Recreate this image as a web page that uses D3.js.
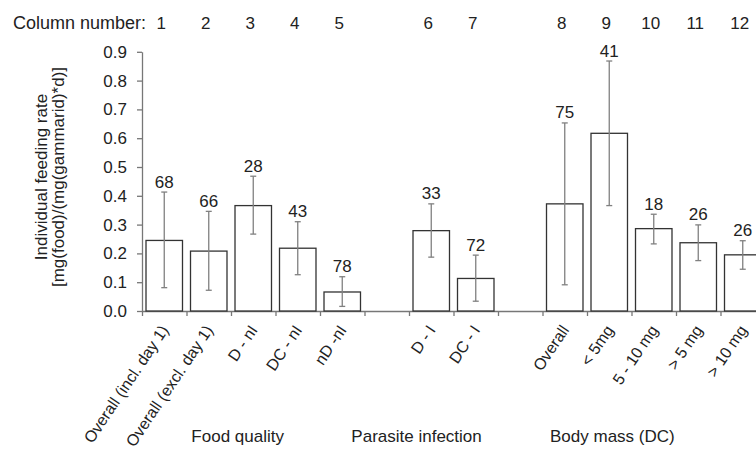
<!DOCTYPE html>
<html>
<head>
<meta charset="utf-8">
<script src="https://cdn.jsdelivr.net/npm/d3@7"></script>
<style>
  body { margin: 0; background: #fff; }
  svg { display: block; overflow: hidden; }
  text { font-family: "Liberation Sans", Arial, Helvetica, sans-serif; fill: #222; }
</style>
</head>
<body>
<div id="chart"></div>
<script>
// data
var columnNumbers = [1, 2, 3, 4, 5, 6, 7, 8, 9, 10, 11, 12];
var labels = ["Overall (incl. day 1)", "Overall (excl. day 1)", "D - nI", "DC - nI", "nD -nI",
              "D - I", "DC - I",
              "Overall", "< 5mg", "5 - 10 mg", "> 5 mg", "> 10 mg"];
var slots = [0, 1, 2, 3, 4, 6, 7, 9, 10, 11, 12, 13];   // empty slots 5 and 8 split the groups
var means = [0.245, 0.208, 0.366, 0.218, 0.066, 0.279, 0.113, 0.372, 0.617, 0.286, 0.237, 0.195];
var lower = [0.081, 0.072, 0.267, 0.126, 0.016, 0.187, 0.034, 0.091, 0.366, 0.233, 0.175, 0.145];
var upper = [0.413, 0.346, 0.468, 0.310, 0.119, 0.372, 0.194, 0.653, 0.868, 0.336, 0.299, 0.244];
var sampleSizes = [68, 66, 28, 43, 78, 33, 72, 75, 41, 18, 26, 26];
var groups = ["Food quality", "Parasite infection", "Body mass (DC)"];
var groupCenters = [2.15, 6.17, 10.57];
var yTicks = [0, 0.1, 0.2, 0.3, 0.4, 0.5, 0.6, 0.7, 0.8, 0.9];
var nSlots = 14;

var width = 756, height = 455;
var plotLeft = 142, plotBottom = 311, plotTop = 51.8, slotStep = 44.5;

var svg = d3.select("#chart").append("svg")
    .attr("width", width)
    .attr("height", height);

var slotScale = d3.scaleLinear().domain([0, nSlots]).range([plotLeft, plotLeft + nSlots * slotStep]);
var x = d3.scaleBand()
    .domain(d3.range(nSlots))
    .range([plotLeft, plotLeft + nSlots * slotStep])
    .paddingInner(0.18)
    .paddingOuter(0.09);
var y = d3.scaleLinear().domain([0, 0.9]).range([plotBottom, plotTop]);

var fontSize = 17;

// y axis
var yAxis = svg.append("g")
    .attr("transform", "translate(" + plotLeft + ",0)")
    .call(d3.axisLeft(y).tickValues(yTicks).tickFormat(d3.format(".1f"))
        .tickSize(5).tickPadding(10).tickSizeOuter(0));
yAxis.selectAll("path, line").attr("stroke", "#777").attr("stroke-width", 1.3);
yAxis.selectAll("text").attr("font-size", fontSize).attr("fill", "#222")
    .style("font-family", "'Liberation Sans', Arial, sans-serif");

// x axis: ticks at slot boundaries
var xAxis = svg.append("g")
    .attr("transform", "translate(0," + plotBottom + ")")
    .call(d3.axisBottom(slotScale).tickValues(d3.range(nSlots + 1)).tickFormat("")
        .tickSize(5).tickSizeOuter(0));
xAxis.selectAll("path, line").attr("stroke", "#777").attr("stroke-width", 1.3);

// bars
var idx = d3.range(means.length);
var cx = function (i) { return x(slots[i]) + x.bandwidth() / 2; };

svg.append("g").selectAll("rect")
    .data(idx)
    .enter().append("rect")
    .attr("x", function (i) { return x(slots[i]); })
    .attr("y", function (i) { return y(means[i]); })
    .attr("width", x.bandwidth())
    .attr("height", function (i) { return plotBottom - y(means[i]); })
    .attr("fill", "#fff")
    .attr("stroke", "#333")
    .attr("stroke-width", 1.3);

// error bars
var err = svg.append("g").attr("stroke", "#808080").attr("stroke-width", 1.3);
idx.forEach(function (i) {
    err.append("line").attr("x1", cx(i)).attr("x2", cx(i))
        .attr("y1", y(lower[i])).attr("y2", y(upper[i]));
    err.append("line").attr("x1", cx(i) - 3).attr("x2", cx(i) + 3)
        .attr("y1", y(lower[i])).attr("y2", y(lower[i]));
    err.append("line").attr("x1", cx(i) - 3).attr("x2", cx(i) + 3)
        .attr("y1", y(upper[i])).attr("y2", y(upper[i]));
});

// sample sizes
svg.append("g").selectAll("text")
    .data(idx)
    .enter().append("text")
    .attr("x", cx)
    .attr("y", function (i) { return y(upper[i]) - 4.5; })
    .attr("text-anchor", "middle")
    .attr("font-size", fontSize)
    .text(function (i) { return sampleSizes[i]; });

// column numbers
svg.append("text")
    .attr("x", 146).attr("y", 29)
    .attr("text-anchor", "end")
    .attr("font-size", 18)
    .text("Column number:");
svg.append("g").selectAll("text")
    .data(idx)
    .enter().append("text")
    .attr("x", function (i) { return cx(i) - 3; })
    .attr("y", 29)
    .attr("text-anchor", "middle")
    .attr("font-size", fontSize)
    .text(function (i) { return columnNumbers[i]; });

// category labels, steeply rotated
svg.append("g").selectAll("text")
    .data(idx)
    .enter().append("text")
    .attr("transform", function (i) { return "translate(" + (cx(i) + 5) + "," + (plotBottom + 19) + ") rotate(-56)"; })
    .attr("text-anchor", "end")
    .attr("font-size", 16)
    .text(function (i) { return labels[i]; });

// group labels
svg.append("g").selectAll("text")
    .data(groups)
    .enter().append("text")
    .attr("x", function (d, i) { return slotScale(groupCenters[i]); })
    .attr("y", 442)
    .attr("text-anchor", "middle")
    .attr("font-size", fontSize)
    .text(function (d) { return d; });

// y title
var yt = svg.append("text")
    .attr("transform", "translate(47,177) rotate(-90)")
    .attr("text-anchor", "middle")
    .attr("font-size", fontSize);
yt.append("tspan").attr("x", 0).attr("y", 0).text("Individual feeding rate");
yt.append("tspan").attr("x", 0).attr("y", 16.5).text("[mg(food)/(mg(gammarid)*d)]");
</script>
</body>
</html>
